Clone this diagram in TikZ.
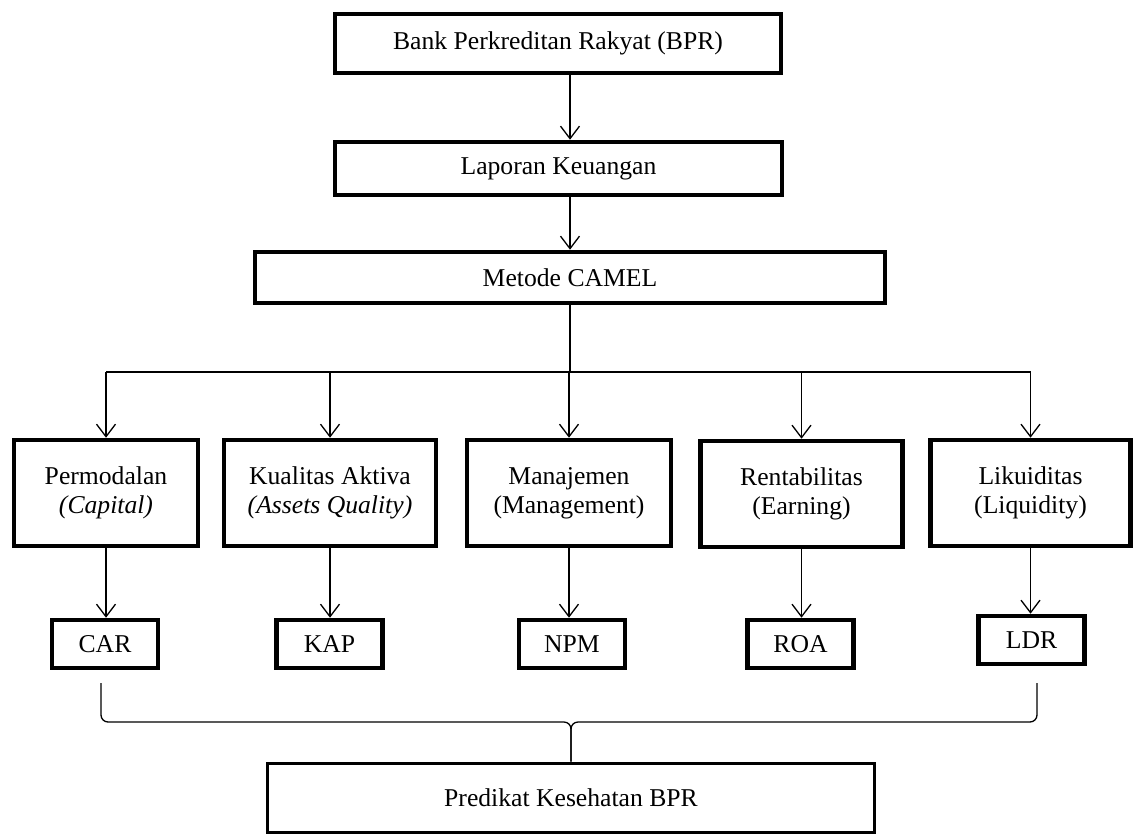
\documentclass[tikz,border=0pt]{standalone}
\usepackage{fontspec}
\setmainfont{Liberation Serif}
\usetikzlibrary{arrows.meta,positioning,calc}

\tikzset{
  block/.style={draw, line width=2.6pt, inner sep=0pt, align=center,
                font=\fontsize{14.6}{16.6}\selectfont},
  aspect/.style={block, minimum height=2.12cm},
  metric/.style={block, minimum width=2.12cm, minimum height=0.96cm},
  flow/.style={line width=0.75pt, -{Straight Barb[length=0.25cm,width=0.38cm]}},
  link/.style={line width=0.75pt}
}

\begin{document}
\begin{tikzpicture}[x=0.02cm,y=-0.02cm]
  \useasboundingbox (0,0) rectangle (1135,836);

  % Top of the chain
  \node[block, minimum width=8.92cm, minimum height=1.18cm] (bpr) at (558,43.5) {Bank Perkreditan Rakyat (BPR)};
  \node[block, minimum width=8.94cm, minimum height=1.06cm] (lap) at (558.5,168.5) {Laporan Keuangan};
  \node[block, minimum width=12.6cm, minimum height=1.02cm] (camel) at (570,277.5) {Metode CAMEL};

  \draw[flow] (bpr.south -| camel.north) -- (lap.north -| camel.north);
  \draw[flow] (lap.south -| camel.north) -- (camel.north);

  % CAMEL aspects
  \node[aspect, minimum width=3.68cm] (cap) at (106,493) {Permodalan\\\textit{(Capital)}};
  \node[aspect, minimum width=4.24cm] (aq) at (330,493) {Kualitas Aktiva\\\textit{(Assets Quality)}};
  \node[aspect, minimum width=4.08cm] (man) at (569,493) {Manajemen\\(Management)};
  \node[aspect, minimum width=4.04cm] (earn) at (801.5,494) {Rentabilitas\\(Earning)};
  \node[aspect, minimum width=4.0cm] (liq) at (1030.5,493) {Likuiditas\\(Liquidity)};

  % Bus from CAMEL
  \coordinate (bus) at (570,372);
  \draw[link] (camel.south) -- (bus);
  \draw[link] (bus -| cap.north) -- (bus -| liq.north);
  \foreach \n in {cap,aq,man,earn,liq}
    \draw[flow] (bus -| \n.north) -- (\n.north);

  % Ratios
  \node[metric] (car) at (105,644) {CAR};
  \node[metric] (kap) at (329.5,644) {KAP};
  \node[metric] (npm) at (572,644) {NPM};
  \node[metric] (roa) at (800.5,644) {ROA};
  \node[metric] (ldr) at (1031.5,640) {LDR};
  \foreach \a/\m in {cap/car,aq/kap,man/npm,earn/roa,liq/ldr}
    \draw[flow] (\a.south) -- (\a.south |- \m.north);

  % Result
  \node[block, line width=2.2pt, minimum width=12.14cm, minimum height=1.38cm] (pred) at (571,798) {Predikat Kesehatan BPR};
  \coordinate (braceL) at (101,683);
  \coordinate (braceR) at (1037,683);
  \coordinate (braceM) at (571,722);
  \draw[link, rounded corners=4pt] (braceL) -- (braceL |- braceM) -- (braceM) -- (pred.north);
  \draw[link, rounded corners=4pt] (braceR) -- (braceR |- braceM) -- (braceM) -- (pred.north);
\end{tikzpicture}
\end{document}
